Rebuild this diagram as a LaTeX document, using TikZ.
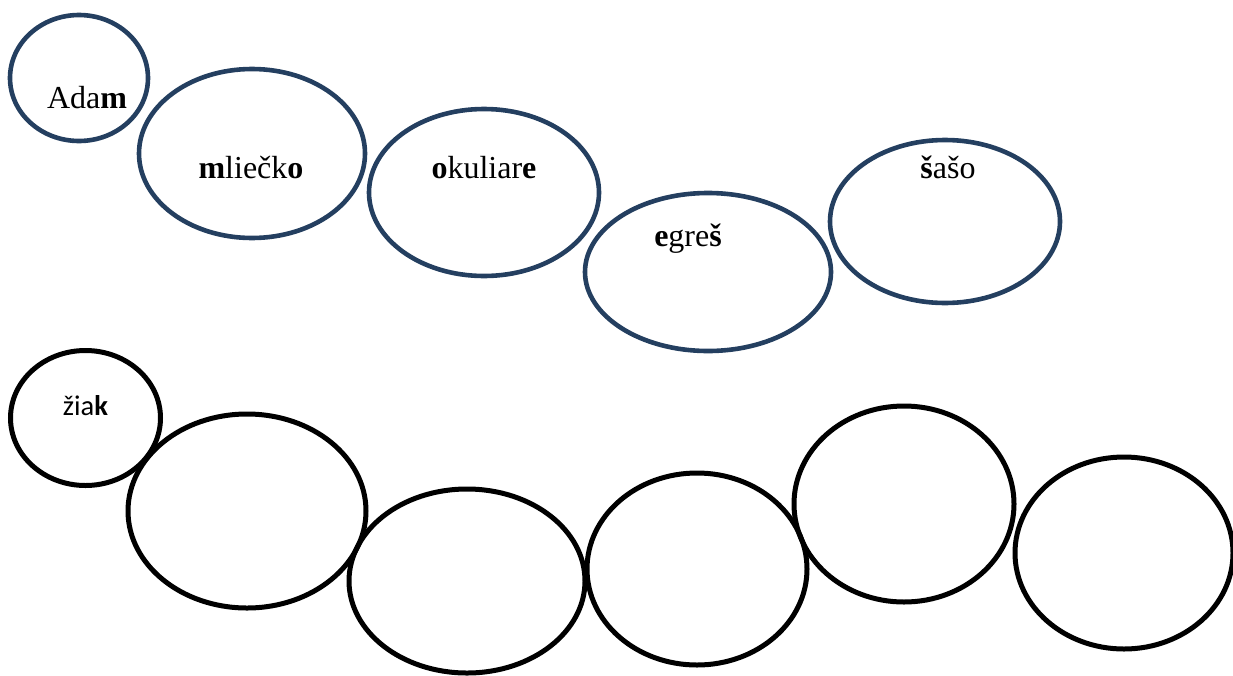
\documentclass[tikz,border=0pt]{standalone}
\usepackage{fontspec}
\setmainfont{Liberation Serif}
\newfontfamily\calib{Carlito}
\usetikzlibrary{shapes.geometric}
\definecolor{topblue}{HTML}{243F60}
\tikzset{
  topell/.style={ellipse, draw=topblue, line width=4.6pt, inner sep=0pt},
  botell/.style={ellipse, draw=black, line width=5pt, inner sep=0pt},
  word/.style={anchor=base, inner sep=0pt, font=\fontsize{32}{38}\selectfont},
  sword/.style={anchor=base, inner sep=0pt, font=\calib\fontsize{28.5}{34}\selectfont}
}
\begin{document}
\begin{tikzpicture}[x=1pt,y=-1pt]
\useasboundingbox (0,0) rectangle (1233,675);
\clip (0,0) rectangle (1233,675);
% top row
\node[topell, minimum width=138pt, minimum height=126pt] (t1) at (79,78) {};
\node[topell, minimum width=226pt, minimum height=169pt] (t2) at (252,153.5) {};
\node[topell, minimum width=230pt, minimum height=167pt] (t3) at (484,192.5) {};
\node[topell, minimum width=246pt, minimum height=158pt] (t4) at (708,272) {};
\node[topell, minimum width=230pt, minimum height=163pt] (t5) at (945,221.5) {};
\node[word] (w1) at (87,108) {Ada\textbf{m}};
\node[word] (w2) at (251,178) {\textbf{m}liečk\textbf{o}};
\node[word] (w3) at (484,178) {\textbf{o}kuliar\textbf{e}};
\node[word] (w4) at (688,246.5) {\textbf{e}gre\textbf{š}};
\node[word] (w5) at (948,178) {\textbf{š}ašo};
% bottom row
\node[botell, minimum width=150pt, minimum height=135pt] (b1) at (85.5,418) {};
\node[botell, minimum width=238pt, minimum height=194pt] (b2) at (247,511) {};
\node[botell, minimum width=236pt, minimum height=184pt] (b3) at (467,581) {};
\node[botell, minimum width=220pt, minimum height=192pt] (b4) at (697,569) {};
\node[botell, minimum width=220pt, minimum height=196pt] (b5) at (904,504) {};
\node[botell, minimum width=218pt, minimum height=192pt] (b6) at (1124,553) {};
\node[sword] (s1) at (85.5,415) {žia\textbf{k}};
\end{tikzpicture}
\end{document}
